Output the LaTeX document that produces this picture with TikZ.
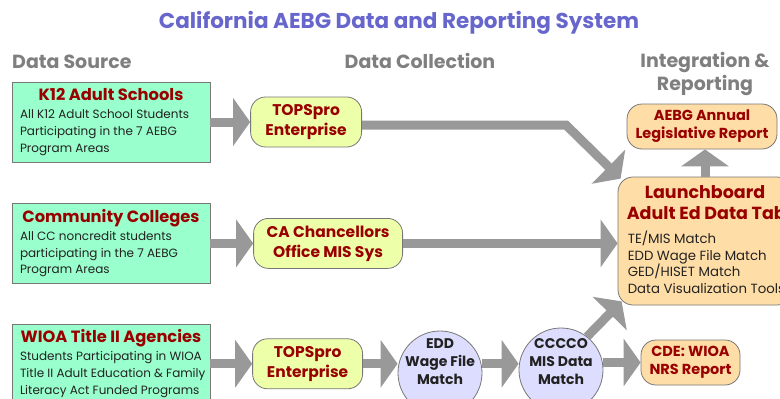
\documentclass[tikz,border=0pt]{standalone}
\usepackage{fontspec}
\setmainfont{Poppins}
\usetikzlibrary{positioning, arrows.meta}

\definecolor{titleblue}{HTML}{6666CC}
\definecolor{headgray}{HTML}{7F7F7F}
\definecolor{aebgred}{HTML}{990000}
\definecolor{bodytext}{HTML}{222222}
\definecolor{srcgreen}{HTML}{99FFCC}
\definecolor{collfill}{HTML}{EEFFAA}
\definecolor{circfill}{HTML}{DDDDFF}
\definecolor{rptfill}{HTML}{FFDDA6}
\definecolor{edgegray}{HTML}{777777}
\definecolor{arrowgray}{HTML}{999999}

\newcommand\titlefont{\fontsize{21.5}{26}\selectfont\bfseries}
\newcommand\colheadfont{\fontsize{19}{23}\selectfont\bfseries}
\newcommand\srchead{\fontsize{16.3}{19}\selectfont\bfseries}
\newcommand\srcbody{\fontsize{12}{16.7}\selectfont}
\newcommand\collfont{\fontsize{15.5}{20}\selectfont\bfseries}
\newcommand\matchfont{\fontsize{14}{18}\selectfont\bfseries}
\newcommand\rptfont{\fontsize{14.5}{18}\selectfont\bfseries}
\newcommand\lbhead{\fontsize{17.5}{21}\selectfont\bfseries}
\newcommand\lbbody{\fontsize{13.3}{16.7}\selectfont}

\begin{document}
\begin{tikzpicture}[x=1pt, y=-1pt,
  srcbox/.style={draw=edgegray, fill=srcgreen, minimum width=198pt, minimum height=80pt, inner sep=0pt},
  srctitle/.style={text=aebgred, font=\srchead, inner sep=0pt},
  srctext/.style={text=bodytext, font=\srcbody, align=left, inner sep=0pt},
  collbox/.style={draw=edgegray, line width=0.8pt, fill=collfill, rounded corners=15pt, minimum height=50pt, inner sep=3pt, align=center, text=aebgred, font=\collfont},
  matchcirc/.style={circle, draw=edgegray, line width=0.8pt, fill=circfill, minimum size=84pt, inner sep=0pt},
  matchtext/.style={align=center, text=bodytext, font=\matchfont, inner sep=0pt},
  rptbox/.style={draw=edgegray, line width=0.8pt, fill=rptfill, rounded corners=15pt, inner sep=3pt, align=center, text=aebgred, font=\rptfont},
  colhead/.style={text=headgray, font=\colheadfont, align=center, inner sep=0pt},
  bigarrow/.style={draw=arrowgray, line width=9pt, -{Triangle[width=47pt, length=17pt]}}
]
  \useasboundingbox (0,0) rectangle (780,399);
  \clip (0,0) rectangle (780,399);

  \node[text=titleblue, font=\titlefont, inner sep=0pt, anchor=base] (title) at (399,28) {California AEBG Data and Reporting System};
  \node[colhead, anchor=base west] (source head) at (12,68) {Data Source};
  \node[colhead, anchor=base] (collect head) at (420,68) {Data Collection};
  \node[colhead] (report head) at (705,74.5) {Integration \&\\Reporting};

  \node[srcbox] (k12 box) at (111,122) {};
  \node[srctitle, anchor=base] (k12 title) at ([yshift=-19pt]k12 box.north) {K12 Adult Schools};
  \node[srctext, below right=28pt and 8pt of k12 box.north west] (k12 text) {All K12 Adult School Students\\Participating in the 7 AEBG\\Program Areas};

  \node[srcbox, below=41pt of k12 box] (cc box) {};
  \node[srctitle, anchor=base] (cc title) at ([yshift=-19pt]cc box.north) {Community Colleges};
  \node[srctext, below right=28pt and 8pt of cc box.north west] (cc text) {All CC noncredit students\\participating in the 7 AEBG\\Program Areas};

  \node[srcbox, below=40pt of cc box] (wioa box) {};
  \node[srctitle, anchor=base] (wioa title) at ([yshift=-19pt]wioa box.north) {WIOA Title II Agencies};
  \node[srctext, below right=28pt and 8pt of wioa box.north west] (wioa text) {Students Participating in WIOA\\Title II Adult Education \& Family\\Literacy Act Funded Programs};

  \node[collbox, minimum width=111pt, right=40pt of k12 box] (tops 1) {TOPSpro\\Enterprise};
  \node[collbox, minimum width=149pt, right=43pt of cc box] (cc mis) {CA Chancellors\\Office MIS Sys};
  \node[collbox, minimum width=110pt, right=42pt of wioa box] (tops 2) {TOPSpro\\Enterprise};

  \node[matchcirc] (edd match) at (440,373) {};
  \node[matchtext] (edd text) at (440,361.5) {EDD\\Wage File\\Match};
  \node[matchcirc] (cccco match) at (561,370) {};
  \node[matchtext] (cccco text) at (561,361.5) {CCCCO\\MIS Data\\Match};

  \node[rptbox, minimum width=150pt, minimum height=45pt] (aebg report) at (702,126.5) {AEBG Annual\\Legislative Report};
  \node[rptbox, minimum width=99pt, minimum height=45pt] (cde report) at (690.5,362.5) {CDE: WIOA\\NRS Report};
  \node[rptbox, minimum width=174pt, minimum height=128pt] (launchboard) at (705,241) {};
  \node[text=aebgred, font=\lbhead, inner sep=0pt, anchor=base] (lb title) at ([yshift=-22pt]launchboard.north) {Launchboard};
  \node[text=aebgred, font=\lbhead, inner sep=0pt, anchor=base west] (lb subtitle) at ([shift={(9,43)}]launchboard.north west) {Adult Ed Data Tab};
  \node[srctext, font=\lbbody, below right=54pt and 10pt of launchboard.north west] (lb list) {TE/MIS Match\\EDD Wage File Match\\GED/HISET Match\\Data Visualization Tools};

  \coordinate (bend) at (566,125);

  \draw[bigarrow] (k12 box) -- (tops 1);
  \draw[bigarrow] (cc box) -- (cc mis);
  \draw[bigarrow] (wioa box.east |- tops 2) -- (tops 2);
  \draw[bigarrow] ([yshift=-3pt]tops 1.east) -- (bend) -- ([shift={(3,2)}]launchboard.north west);
  \draw[bigarrow] (cc mis) -- (cc mis -| launchboard.west);
  \draw[bigarrow] (launchboard.north) -- (launchboard.north |- aebg report.south);
  \draw[bigarrow] (tops 2) -- (tops 2 -| edd match.west);
  \draw[bigarrow] (edd match.east |- tops 2) -- (cccco match.west |- tops 2);
  \draw[bigarrow] (cccco match.east |- cde report) -- (cde report);
  \draw[bigarrow] (cccco match.52) -- ([shift={(4,-4)}]launchboard.south west);
\end{tikzpicture}
\end{document}
